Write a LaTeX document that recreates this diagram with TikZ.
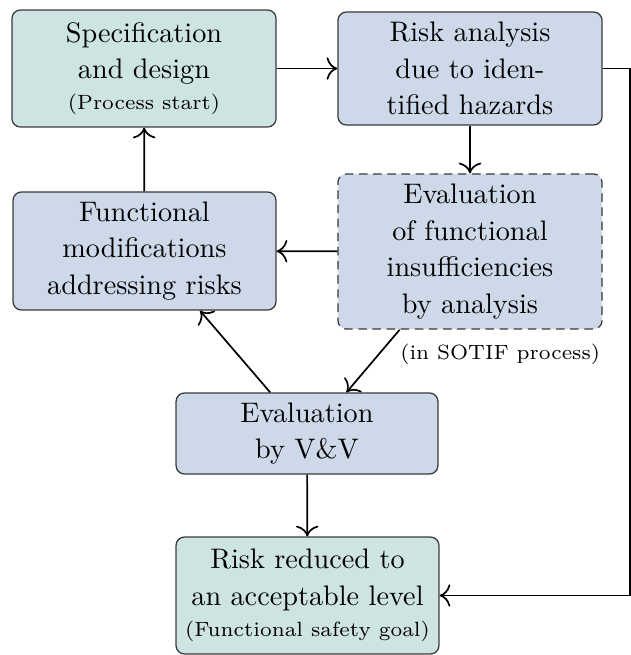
\documentclass[tikz,border=0pt]{standalone}
\usetikzlibrary{calc,arrows.meta}
\definecolor{tealfill}{HTML}{CDE4E2}
\definecolor{bluefill}{HTML}{CDD9E9}
\definecolor{edgecol}{HTML}{3A3A3A}
\begin{document}
\begin{tikzpicture}[x=0.354pt,y=-0.354pt,
  box/.style={draw=edgecol, line width=0.45pt, rounded corners=3pt, align=center, inner sep=0pt, font=\fontsize{10}{13}\selectfont},
  greenbox/.style={box, fill=tealfill},
  bluebox/.style={box, fill=bluefill},
  conn/.style={line width=0.6pt, -{To[scale=1.3]}},
  smalltext/.style={font=\fontsize{7.3}{9}\selectfont}]
\useasboundingbox (0,0) rectangle (631,655);

\node[greenbox, minimum width=93.5pt, minimum height=41.4pt] (spec) at (144,68.5)
  {Specification\\ and design\\[-2pt] {\fontsize{7.3}{9}\selectfont (Process start)}};
\node[bluebox, minimum width=93.5pt, minimum height=40pt] (risk) at (470,68.5)
  {Risk analysis\\ due to iden-\\ tified hazards};
\node[bluebox, dashed, dash pattern=on 3pt off 2pt, minimum width=93.5pt, minimum height=54.9pt] (eval) at (470,251.5)
  {Evaluation\\ of functional\\ insufficiencies\\ by analysis};
\node[bluebox, minimum width=93.1pt, minimum height=41.8pt] (func) at (144.5,251)
  {Functional\\ modifications\\ addressing risks};
\node[bluebox, minimum width=92.7pt, minimum height=28.7pt] (vv) at (307,433.5)
  {Evaluation\\ by V\&V};
\node[greenbox, minimum width=93.1pt, minimum height=41.4pt] (red) at (307.5,595.5)
  {Risk reduced to\\ an acceptable level\\[-2pt] {\fontsize{7.3}{9}\selectfont (Functional safety goal)}};
\node[smalltext, anchor=north east, inner sep=0pt] (sotif) at ($(eval.south east)+(-2,14)$)
  {(in SOTIF process)};

\coordinate (rt) at (630,68.5);
\coordinate (rb) at (630,595.5);

\draw[conn] (spec) -- (risk);
\draw[conn] (risk) -- (eval);
\draw[conn] (eval) -- (func);
\draw[conn] (func) -- (spec);
\draw[conn] ($(eval.south west)!0.235!(eval.south east)$) -- ($(vv.north west)!0.65!(vv.north east)$);
\draw[conn] ($(vv.north west)!0.36!(vv.north east)$) -- ($(func.south west)!0.71!(func.south east)$);
\draw[conn] (vv) -- (red);
\draw[conn] (risk.east) -- (rt) -- (rb) -- (red.east);
\end{tikzpicture}
\end{document}
